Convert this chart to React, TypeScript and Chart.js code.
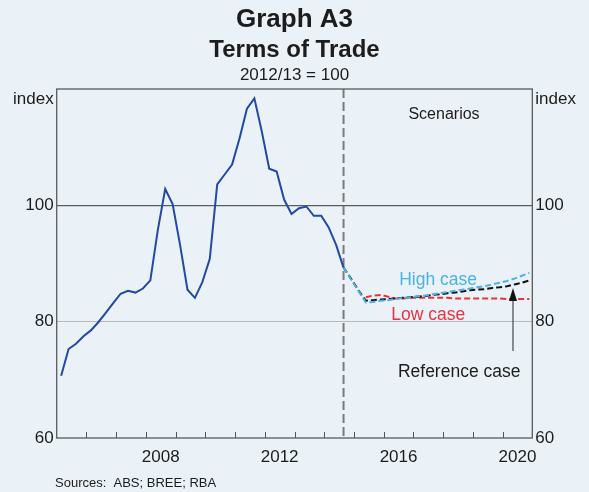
import { useEffect, useRef } from 'react';
import { Chart, registerables } from 'chart.js';

Chart.register(...registerables);

// ---- Text ----
const TITLE = 'Graph A3';
const SUBTITLE = 'Terms of Trade';
const NOTE = '2012/13 = 100';
const UNIT = 'index';
const SOURCES = 'Sources:  ABS; BREE; RBA';
const SCENARIOS_LABEL = 'Scenarios';
const HIGH_LABEL = 'High case';
const LOW_LABEL = 'Low case';
const REF_LABEL = 'Reference case';

// ---- Data (quarterly, index 2012/13 = 100) ----
const HISTORY_START = { year: 2005, quarter: 1 };
const historyValues = [
  70.7, 75.3, 76.2, 77.5, 78.5, 79.9, 81.5, 83.2, 84.8, 85.3,
  85.0, 85.7, 87.1, 95.7, 102.8, 100.2, 93.2, 85.5, 84.1, 86.8,
  90.8, 103.6, 105.3, 107.0, 111.5, 116.6, 118.4, 112.7, 106.3, 105.8,
  101.0, 98.5, 99.5, 99.8, 98.2, 98.2, 96.2, 93.2, 89.3,
];

const FORECAST_START = { year: 2014, quarter: 3 };
const referenceCase = [
  89.3, 87.4, 85.4, 83.6, 83.7, 83.8, 83.9, 84.0, 84.1, 84.2,
  84.3, 84.4, 84.6, 84.7, 84.9, 85.0, 85.2, 85.4, 85.5, 85.6,
  85.8, 85.9, 86.1, 86.4, 86.7, 87.1,
];
const highCase = [
  89.3, 87.3, 85.3, 83.3, 83.4, 83.6, 83.7, 83.9, 84.1, 84.2,
  84.4, 84.5, 84.7, 84.9, 85.1, 85.3, 85.5, 85.7, 85.9, 86.1,
  86.4, 86.7, 87.0, 87.4, 87.9, 88.4,
];
const LOW_START = { year: 2015, quarter: 2 };
const lowCase = [
  84.2, 84.5, 84.6, 84.3, 84.0, 84.0, 84.1, 84.1, 84.1, 84.1,
  84.1, 84.1, 84.0, 84.0, 84.0, 84.0, 84.0, 84.0, 84.0, 83.9,
  83.9, 83.9, 83.9,
];

// ---- Axes ----
const X_MIN = 2005;
const X_MAX = 2021;
const yearLabels = [2008, 2012, 2016, 2020];
const Y_MIN = 60;
const Y_MAX = 120;
const yTicks = [60, 80, 100, 120];

// ---- Styles ----
const BG = '#eaf2f7';
const TEXT = '#1c1c1c';
const BLUE = '#2249a3';
const LIGHT_BLUE = '#4cb2e6';
const RED = '#e8323f';
const BLACK = '#111111';
const FONT = "Arial, 'Liberation Sans', Helvetica, sans-serif";

function quarterX(start: { year: number; quarter: number }, i: number) {
  const q = start.quarter - 1 + i;
  return start.year + q * 0.25 + 0.15;
}
function toPoints(start: { year: number; quarter: number }, values: number[]) {
  return values.map((v, i) => ({ x: quarterX(start, i), y: v }));
}

const decorPlugin = {
  id: 'decor',
  beforeDraw(chart: any) {
    const { ctx, width, height } = chart;
    ctx.save();
    ctx.fillStyle = BG;
    ctx.fillRect(0, 0, width, height);
    ctx.restore();
  },
  beforeDatasetsDraw(chart: any) {
    const { ctx, chartArea } = chart;
    const xs = chart.scales.x;
    ctx.save();
    // inner tick marks at each year boundary
    ctx.strokeStyle = '#555';
    ctx.lineWidth = 1;
    for (let yr = Math.ceil(xs.min) + 1; yr < xs.max; yr++) {
      const px = Math.round(xs.getPixelForValue(yr)) + 0.5;
      ctx.beginPath();
      ctx.moveTo(px, chartArea.bottom);
      ctx.lineTo(px, chartArea.bottom - 6);
      ctx.stroke();
    }
    // forecast divider
    const fx = xs.getPixelForValue(quarterX(HISTORY_START, historyValues.length - 1));
    ctx.strokeStyle = '#7b7b7b';
    ctx.lineWidth = 2;
    ctx.setLineDash([9, 4]);
    ctx.beginPath();
    ctx.moveTo(fx, chartArea.top);
    ctx.lineTo(fx, chartArea.bottom);
    ctx.stroke();
    ctx.restore();
  },
  afterDatasetsDraw(chart: any) {
    const { ctx, chartArea, width } = chart;
    const xs = chart.scales.x;
    const ys = chart.scales.y;
    ctx.save();
    // frame
    ctx.strokeStyle = '#5a5a5a';
    ctx.lineWidth = 1.3;
    ctx.strokeRect(chartArea.left, chartArea.top, chartArea.right - chartArea.left, chartArea.bottom - chartArea.top);

    // titles
    ctx.fillStyle = TEXT;
    ctx.textAlign = 'center';
    ctx.textBaseline = 'alphabetic';
    ctx.font = `bold 26px ${FONT}`;
    ctx.fillText(TITLE, width / 2, 26.5);
    ctx.font = `bold 24px ${FONT}`;
    ctx.fillText(SUBTITLE, width / 2, 57);
    ctx.font = `17px ${FONT}`;
    ctx.fillText(NOTE, width / 2, 80);

    // unit labels
    ctx.font = `17px ${FONT}`;
    ctx.textAlign = 'right';
    ctx.fillText(UNIT, chartArea.left - 3, 104);
    ctx.textAlign = 'left';
    ctx.fillText(UNIT, chartArea.right + 3, 104);

    // sources
    ctx.font = `13px ${FONT}`;
    ctx.textAlign = 'left';
    ctx.fillText(SOURCES, 55, 487);

    // annotations
    ctx.textAlign = 'center';
    ctx.font = `16px ${FONT}`;
    ctx.fillStyle = TEXT;
    ctx.fillText(SCENARIOS_LABEL, xs.getPixelForValue(2018.03), ys.getPixelForValue(114.84));
    ctx.font = `17.5px ${FONT}`;
    ctx.fillStyle = LIGHT_BLUE;
    ctx.fillText(HIGH_LABEL, xs.getPixelForValue(2017.83), ys.getPixelForValue(86.3));
    ctx.fillStyle = RED;
    ctx.fillText(LOW_LABEL, xs.getPixelForValue(2017.5), ys.getPixelForValue(80.29));
    ctx.fillStyle = TEXT;
    ctx.fillText(REF_LABEL, xs.getPixelForValue(2018.54), ys.getPixelForValue(70.49));

    // arrow
    const ax = xs.getPixelForValue(2020.35);
    const tipY = ys.getPixelForValue(85.8);
    const tailY = ys.getPixelForValue(74.96);
    ctx.strokeStyle = '#555';
    ctx.lineWidth = 1.3;
    ctx.beginPath();
    ctx.moveTo(ax, tailY);
    ctx.lineTo(ax, tipY + 8);
    ctx.stroke();
    ctx.fillStyle = '#111';
    ctx.beginPath();
    ctx.moveTo(ax, tipY);
    ctx.lineTo(ax - 4, tipY + 13);
    ctx.lineTo(ax + 4, tipY + 13);
    ctx.closePath();
    ctx.fill();
    ctx.restore();
  },
};

export default function App() {
  const canvasRef = useRef<HTMLCanvasElement | null>(null);

  useEffect(() => {
    document.body.style.margin = '0';
    document.body.style.background = BG;
    const canvas = canvasRef.current;
    if (!canvas) return;

    const lineBase = { pointRadius: 0, pointHoverRadius: 0, tension: 0, fill: false, borderWidth: 2 };
    const yTickCfg = {
      font: { family: FONT, size: 17 },
      color: TEXT,
      padding: 3,
      autoSkip: false,
      callback: (v: any) => (Number(v) === Y_MAX ? '' : String(v)),
    };

    const chart = new Chart(canvas, {
      type: 'line',
      data: {
        datasets: [
          { ...lineBase, label: 'Terms of trade', data: toPoints(HISTORY_START, historyValues), borderColor: BLUE },
          { ...lineBase, label: HIGH_LABEL, data: toPoints(FORECAST_START, highCase), borderColor: LIGHT_BLUE, borderDash: [6, 3] },
          { ...lineBase, label: REF_LABEL, data: toPoints(FORECAST_START, referenceCase), borderColor: BLACK, borderDash: [6, 3] },
          { ...lineBase, label: LOW_LABEL, data: toPoints(LOW_START, lowCase), borderColor: RED, borderDash: [6, 3] },
        ],
      } as any,
      options: {
        animation: false,
        responsive: false,
        maintainAspectRatio: false,
        devicePixelRatio: 1,
        layout: { padding: { top: 89, left: 0, right: 0, bottom: 0 } },
        plugins: {
          legend: { display: false },
          tooltip: { enabled: false },
          title: { display: false },
        },
        scales: {
          x: {
            type: 'linear',
            min: X_MIN,
            max: X_MAX,
            afterBuildTicks: (s: any) => {
              s.ticks = yearLabels.map((y) => ({ value: y + 0.5 }));
            },
            afterFit: (s: any) => {
              s.height = 54;
            },
            ticks: {
              font: { family: FONT, size: 17 },
              color: TEXT,
              padding: 9,
              maxRotation: 0,
              autoSkip: false,
              callback: (v: any) => String(Math.floor(Number(v))),
            },
            grid: { display: false, drawTicks: false },
            border: { display: false },
          },
          y: {
            type: 'linear',
            position: 'left',
            min: Y_MIN,
            max: Y_MAX,
            afterBuildTicks: (s: any) => {
              s.ticks = yTicks.map((v) => ({ value: v }));
            },
            afterFit: (s: any) => {
              s.width = 56.7;
            },
            ticks: yTickCfg,
            grid: {
              drawTicks: false,
              color: (c: any) => {
                const v = c.tick && c.tick.value;
                if (v === 100) return '#5c5c5c';
                if (v === 80) return '#b8b8b8';
                return 'rgba(0,0,0,0)';
              },
              lineWidth: (c: any) => (c.tick && c.tick.value === 100 ? 1.3 : 1),
            },
            border: { display: false },
          },
          y2: {
            type: 'linear',
            position: 'right',
            min: Y_MIN,
            max: Y_MAX,
            afterBuildTicks: (s: any) => {
              s.ticks = yTicks.map((v) => ({ value: v }));
            },
            afterFit: (s: any) => {
              s.width = 56.7;
            },
            ticks: yTickCfg,
            grid: { display: false, drawTicks: false },
            border: { display: false },
          },
        },
      } as any,
      plugins: [decorPlugin],
    });

    return () => {
      chart.destroy();
    };
  }, []);

  return (
    <div style={{ width: 589, height: 492, background: BG }}>
      <canvas ref={canvasRef} width={589} height={492} style={{ display: 'block', width: 589, height: 492 }} />
    </div>
  );
}
